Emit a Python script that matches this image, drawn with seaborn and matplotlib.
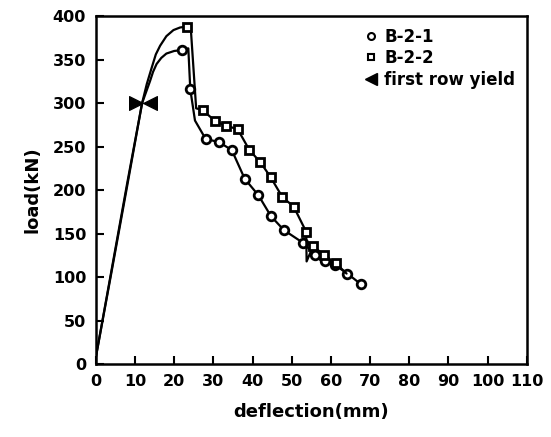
import matplotlib
matplotlib.use("Agg")
import matplotlib.pyplot as plt
from matplotlib.lines import Line2D
import seaborn as sns
import pandas as pd

# B-2-1 load-deflection curve
b21_x = [0, 4, 8, 11.8, 13, 13.8, 14.6, 15.5, 16.7, 18, 20, 22, 23.6, 24.1, 25.3, 28, 31.5, 34.7, 38, 41.5, 44.7, 48, 53, 56, 58.4, 61, 64.2, 67.6]
b21_y = [8, 108, 208, 300, 315, 325, 336, 345, 352, 357, 360, 361, 363, 316, 280, 259, 255, 246, 213, 194, 170, 154, 139, 125, 118, 114, 104, 92]
b21_marks = [11, 13, 15, 16, 17, 18, 19, 20, 21, 22, 23, 24, 25, 26, 27]

# B-2-2 load-deflection curve
b22_x = [0, 4, 8, 11.8, 13, 14.2, 15.3, 16.4, 18, 19.8, 21.5, 23.2, 24.2, 25.6, 27.3, 30.5, 33.3, 36.2, 39.2, 42, 44.6, 47.6, 50.5, 53.7, 53.8, 55.5, 58.2, 61.2, 64]
b22_y = [8, 106, 205, 300, 322, 340, 356, 366, 377, 384, 387, 388, 388, 294, 292, 279, 274, 270, 246, 232, 215, 192, 181, 152, 118, 136, 125, 116, 104]
b22_marks = [11, 14, 15, 16, 17, 18, 19, 20, 21, 22, 23, 25, 26, 27]

# first row yield markers
yield_right_x = [10.3]
yield_left_x = [13.9]
yield_y = [300]

sns.set_style("ticks")
plt.rcParams['font.family'] = ['DejaVu Sans']
plt.rcParams['font.weight'] = 'bold'
plt.rcParams['text.color'] = 'black'
plt.rcParams['axes.labelcolor'] = 'black'
plt.rcParams['xtick.color'] = 'black'
plt.rcParams['ytick.color'] = 'black'

fig = plt.figure(figsize=(5.51, 4.37), dpi=100)
ax = fig.add_axes([0.174, 0.167, 0.782, 0.796])

df1 = pd.DataFrame({"x": b21_x, "y": b21_y})
df2 = pd.DataFrame({"x": b22_x, "y": b22_y})

sns.lineplot(data=df1, x="x", y="y", sort=False, estimator=None, ax=ax,
             color="black", linewidth=1.6, marker="o", markevery=b21_marks,
             markersize=6.2, markerfacecolor="white", markeredgecolor="black",
             markeredgewidth=2.0)
sns.lineplot(data=df2, x="x", y="y", sort=False, estimator=None, ax=ax,
             color="black", linewidth=1.6, marker="s", markevery=b22_marks,
             markersize=6.2, markerfacecolor="white", markeredgecolor="black",
             markeredgewidth=2.0)

sns.scatterplot(x=yield_right_x, y=yield_y, marker=">", s=100, color="black",
                edgecolor="black", ax=ax, zorder=5)
sns.scatterplot(x=yield_left_x, y=yield_y, marker="<", s=100, color="black",
                edgecolor="black", ax=ax, zorder=5)

ax.set_xlim(0, 110)
ax.set_ylim(0, 400)
ax.set_xticks(range(0, 111, 10))
ax.set_yticks(range(0, 401, 50))
ax.tick_params(direction="in", length=6, width=1.5, labelsize=11.5, pad=7,
               top=False, right=False, colors="black")
for lbl in ax.get_xticklabels() + ax.get_yticklabels():
    lbl.set_fontweight("bold")
for sp in ax.spines.values():
    sp.set_visible(True)
    sp.set_linewidth(1.8)
    sp.set_color("black")

ax.set_xlabel("deflection(mm)", fontsize=13, fontweight="bold", labelpad=10, color="black")
ax.set_ylabel("load(kN)", fontsize=13, fontweight="bold", labelpad=8, color="black")

handles = [
    Line2D([], [], linestyle="none", marker="o", markersize=5,
           markerfacecolor="white", markeredgecolor="black", markeredgewidth=1.5),
    Line2D([], [], linestyle="none", marker="s", markersize=5,
           markerfacecolor="white", markeredgecolor="black", markeredgewidth=1.5),
    Line2D([], [], linestyle="none", marker="<", markersize=8,
           markerfacecolor="black", markeredgecolor="black"),
]
leg = ax.legend(handles, ["B-2-1", "B-2-2", "first row yield"], loc="upper right",
                frameon=False, handletextpad=0.3, labelspacing=0.2,
                borderaxespad=0.3, handlelength=1.0,
                prop={"weight": "bold", "size": 12})
for t in leg.get_texts():
    t.set_color("black")

fig.savefig("out.png", dpi=100)
